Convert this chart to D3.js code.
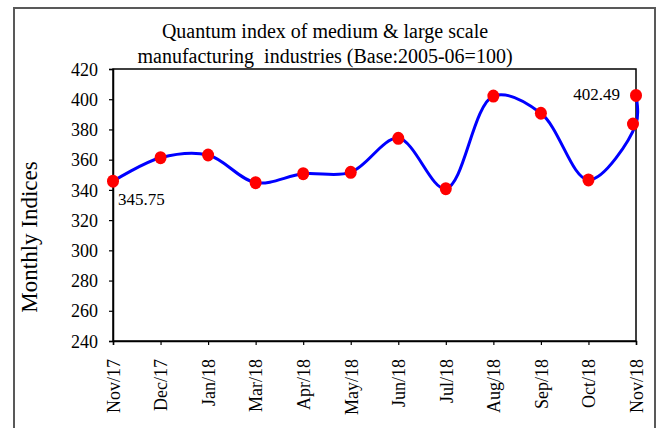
<!DOCTYPE html>
<html>
<head>
<meta charset="utf-8">
<script src="https://cdn.jsdelivr.net/npm/d3@7"></script>
<style>
html,body{margin:0;padding:0;background:#fff;}
svg{display:block;}
text{font-family:"Liberation Serif","Times New Roman",serif;fill:#000;}
</style>
</head>
<body>
<svg id="chart" width="660" height="428"></svg>
<script>
const categories = ["Nov/17","Dec/17","Jan/18","Mar/18","Apr/18","May/18","Jun/18","Jul/18","Aug/18","Sep/18","Oct/18","Nov/18"];
const pointCategories = ["Nov/17","Dec/17","Jan/18","Mar/18","Apr/18","May/18","Jun/18","Jul/18","Aug/18","Sep/18","Oct/18","Nov/18","Nov/18"];
const values = [345.75,361.3,363.1,344.8,350.7,351.6,374.1,340.8,402.1,390.7,346.6,383.6,402.49];
const yTicks = [240,260,280,300,320,340,360,380,400,420];
const titleLines = ["Quantum index of medium & large scale","manufacturing  industries (Base:2005-06=100)"];
const yTitle = "Monthly Indices";

const svg = d3.select("#chart");
const m = {left:113, right:636, top:69, bottom:341};

// outer frame
svg.append("rect").attr("x",14).attr("y",8).attr("width",641).attr("height",424)
  .attr("fill","none").attr("stroke","#595959").attr("stroke-width",2);

const x = d3.scalePoint().domain(categories).range([m.left,m.right]).padding(0);
const y = d3.scaleLinear().domain([240,420]).range([m.bottom,m.top]);

// plot box
svg.append("rect").attr("x",m.left).attr("y",m.top).attr("width",m.right-m.left).attr("height",m.bottom-m.top)
  .attr("fill","none").attr("stroke","#000").attr("stroke-width",1.5);

const yAxis = svg.append("g").attr("transform",`translate(${m.left},0)`)
  .call(d3.axisLeft(y).tickValues(yTicks).tickSize(4).tickPadding(11).tickFormat(d3.format("d")));
yAxis.select(".domain").attr("stroke","#000").attr("stroke-width",1.5);
yAxis.selectAll(".tick line").attr("stroke","#000").attr("stroke-width",1.2);
yAxis.selectAll("text").style("font-size","18px").style("font-family","Liberation Serif").attr("dy","0.34em");

const xAxis = svg.append("g").attr("transform",`translate(0,${m.bottom})`)
  .call(d3.axisBottom(x).tickSize(4).tickPadding(0));
xAxis.select(".domain").attr("stroke","#000").attr("stroke-width",1.5);
xAxis.selectAll(".tick line").attr("stroke","#000").attr("stroke-width",1.2);
xAxis.selectAll("text")
  .style("font-size","18px").style("font-family","Liberation Serif")
  .attr("text-anchor","end")
  .attr("transform","rotate(-90)")
  .attr("x",-18).attr("y",0).attr("dy","0.35em");

// title
svg.append("g").selectAll("text").data(titleLines).join("text")
  .attr("x",325).attr("y",(d,i)=>38+i*25)
  .attr("text-anchor","middle")
  .style("font-size","20px").style("white-space","pre")
  .text(d=>d);

// y title
svg.append("text").attr("transform","translate(37,237) rotate(-90)")
  .attr("text-anchor","middle").style("font-size","23px").text(yTitle);

const pts = values.map((v,i)=>({c:pointCategories[i],v}));
const line = d3.line().x(d=>x(d.c)).y(d=>y(d.v)).curve(d3.curveCatmullRom.alpha(0.5));
svg.append("path").datum(pts).attr("d",line).attr("fill","none")
  .attr("stroke","#0000ff").attr("stroke-width",3);

svg.append("g").selectAll("ellipse").data(pts).join("ellipse")
  .attr("cx",d=>x(d.c)-(d===pts[11]?3:0)).attr("cy",d=>y(d.v))
  .attr("rx",6).attr("ry",6.5).attr("fill","#ff0000");

// data labels
svg.append("text").attr("x",x(pointCategories[0])+5).attr("y",y(values[0])+24)
  .style("font-size","17px").text(values[0].toFixed(2));
svg.append("text").attr("x",x(pointCategories[12])-16).attr("y",y(values[12])+5)
  .attr("text-anchor","end").style("font-size","17px").text(values[12].toFixed(2));
</script>
</body>
</html>
